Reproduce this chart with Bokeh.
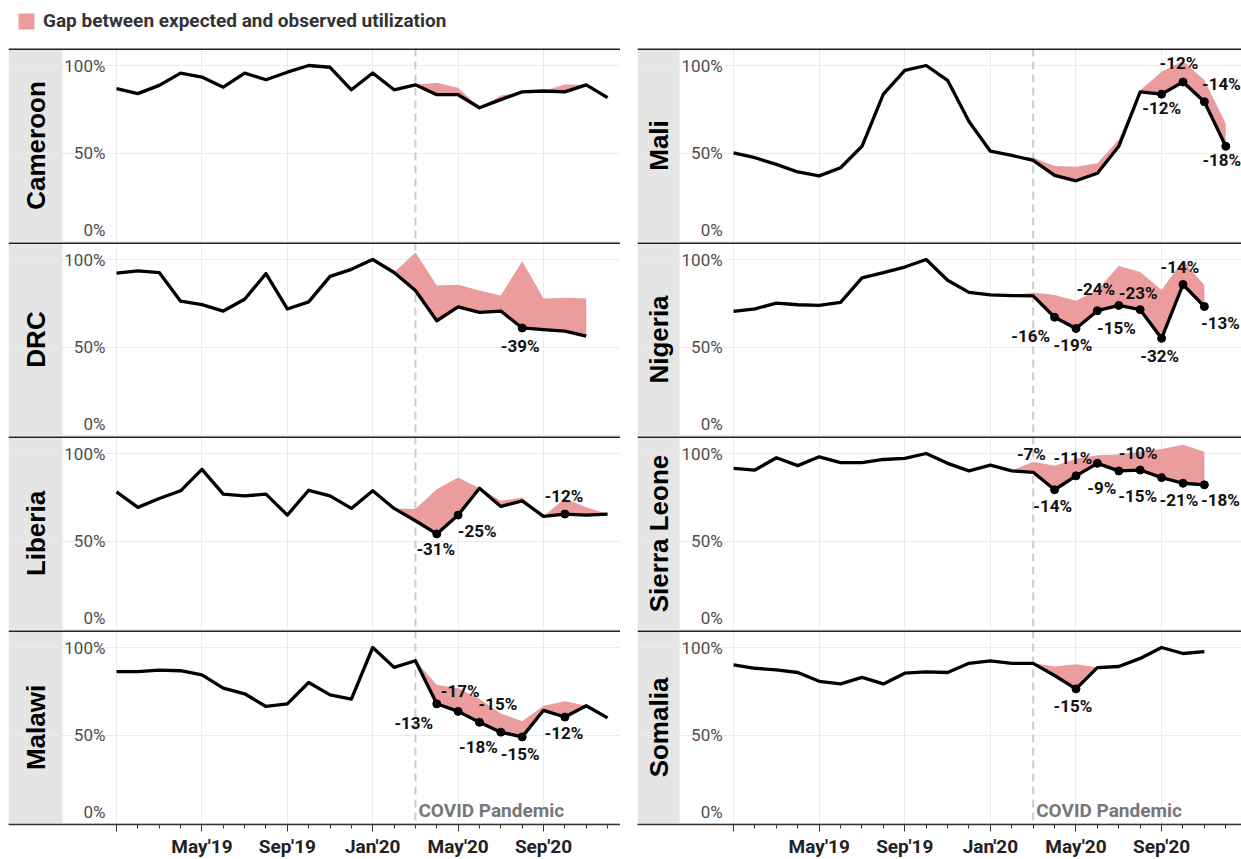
import numpy as np
from bokeh.plotting import figure
from bokeh.models import (Range1d, ColumnDataSource, LinearAxis, FixedTicker, Grid, Span,
                          BoxAnnotation, Legend, LegendItem, Spacer)
from bokeh.layouts import column, row
from bokeh.core.properties import value
from bokeh.embed import file_html
from bokeh.resources import INLINE

# ---------------- data ----------------
MONTHS = ["Jan'19", "Feb'19", "Mar'19", "Apr'19", "May'19", "Jun'19", "Jul'19", "Aug'19",
          "Sep'19", "Oct'19", "Nov'19", "Dec'19", "Jan'20", "Feb'20", "Mar'20", "Apr'20",
          "May'20", "Jun'20", "Jul'20", "Aug'20", "Sep'20", "Oct'20", "Nov'20", "Dec'20"]
TICK_MONTHS = [0, 4, 8, 12, 16, 20]
TICK_LABELS = ["", "May'19", "Sep'19", "Jan'20", "May'20", "Sep'20"]
Y_TICKS = [0, 50, 100]
Y_TICK_LABELS = ["0%", "50%", "100%"]
COVID_START = 14
LEGEND_LABEL = "Gap between expected and observed utilization"
COVID_LABEL = "COVID Pandemic"

LEFT_COUNTRIES = ["Cameroon", "DRC", "Liberia", "Malawi"]
RIGHT_COUNTRIES = ["Mali", "Nigeria", "Sierra Leone", "Somalia"]

cameroon_observed = [86.8, 84, 88.7, 95.7, 93.4, 87.7, 95.7, 91.9, 96.2, 100, 99, 86.2,
                     95.7, 86.2, 89, 83.4, 83.4, 76, 80.6, 85, 85.5, 85, 89, 81.7]
cameroon_expected_start = 14
cameroon_expected = [89, 90.2, 87.4, 76, 83, 85, 85.5, 89.2, 89]
cameroon_gap_months = []
cameroon_gap_labels = []

drc_observed = [92.2, 93.5, 92.6, 76.3, 74.4, 70.7, 77.4, 92, 71.9, 75.9, 90.4, 94.4,
                100, 92.6, 82.4, 65.2, 73.1, 70, 70.7, 61.1, 60.2, 59.3, 56.5, None]
drc_expected_start = 13
drc_expected = [92.6, 104, 85.2, 85.6, 82.4, 79.6, 99, 77.8, 78.3, 77.8]
drc_gap_months = [19]
drc_gap_labels = ["-39%"]

liberia_observed = [78.2, 69.4, 74.4, 78.8, 91, 76.9, 75.9, 76.9, 65, 79.1, 75.9, 68.8,
                    78.8, 68.8, 61.8, 54.3, 65, 80.3, 69.9, 73.1, 64.3, 65.6, 65, 65.6]
liberia_expected_start = 13
liberia_expected = [68.8, 68.4, 79.7, 86.3, 80.3, 73.1, 75, 64.3, 74.5, 69.4, 65.6]
liberia_gap_months = [15, 16, 21]
liberia_gap_labels = ["-31%", "-25%", "-12%"]

malawi_observed = [86.3, 86.3, 87.2, 86.8, 84.4, 76.9, 73.7, 66.5, 68, 80.1, 73.1, 70.7,
                   100, 88.7, 92.5, 68, 63.7, 57.5, 51.9, 49.2, 64.3, 60.5, 66.9, 60]
malawi_expected_start = 14
malawi_expected = [92.5, 78.8, 76.9, 70.7, 62.5, 58.1, 66.9, 69.4, 66.9]
malawi_gap_months = [15, 16, 17, 18, 19, 21]
malawi_gap_labels = ["-13%", "-17%", "-18%", "-15%", "-15%", "-12%"]

mali_observed = [50.4, 47.6, 43.8, 39.5, 37.3, 41.9, 54.1, 83.7, 97.2, 100, 91.6, 68.2,
                 51.3, 48.9, 46.1, 37.6, 34.5, 38.8, 54.1, 85, 83.7, 90.6, 79.4, 54.1]
mali_expected_start = 13
mali_expected = [48.9, 47.6, 42.9, 42.5, 44.4, 57.9, 86, 96.5, 102.5, 91.6, 67]
mali_gap_months = [20, 21, 22, 23]
mali_gap_labels = ["-12%", "-12%", "-14%", "-18%"]

nigeria_observed = [70.5, 72, 75.2, 74.3, 73.9, 75.6, 89.6, 92.5, 95.7, 100, 88.2, 81.3,
                    79.9, 79.5, 79.3, 67.2, 60.8, 70.9, 73.9, 71.5, 55.2, 85.8, 73.3, None]
nigeria_expected_start = 13
nigeria_expected = [79.5, 81.3, 79.9, 76.5, 82.6, 96.3, 92.9, 82.6, 99.4, 85.4]
nigeria_gap_months = [15, 16, 17, 18, 19, 20, 21, 22]
nigeria_gap_labels = ["-16%", "-19%", "-15%", "-24%", "-23%", "-32%", "-14%", "-13%"]

sierra_leone_observed = [91.6, 90.6, 97.6, 93.1, 98.1, 94.8, 94.8, 96.6, 97.2, 100, 94.4, 90.1,
                         93.4, 90.1, 89.3, 79.4, 87.3, 94.4, 90.1, 90.6, 86.3, 83.1, 82.2, None]
sierra_leone_expected_start = 13
sierra_leone_expected = [90.1, 95.3, 93, 97, 99, 99.5, 101, 102.5, 105, 101]
sierra_leone_gap_months = [15, 16, 17, 18, 19, 20, 21, 22]
sierra_leone_gap_labels = ["-14%", "-11%", "-7%", "-9%", "-10%", "-15%", "-21%", "-18%"]

somalia_observed = [90.1, 88.2, 87.3, 85.8, 80.8, 79.3, 83, 79.3, 85.4, 86.2, 85.8, 91,
                    92.4, 91, 91, 84.1, 76.5, 88.6, 89.2, 93.8, 100, 96.6, 97.6, None]
somalia_expected_start = 14
somalia_expected = [91, 89.2, 90.5, 88.6]
somalia_gap_months = [16]
somalia_gap_labels = ["-15%"]

DATA = {
    "Cameroon": (cameroon_observed, cameroon_expected_start, cameroon_expected, cameroon_gap_months, cameroon_gap_labels),
    "DRC": (drc_observed, drc_expected_start, drc_expected, drc_gap_months, drc_gap_labels),
    "Liberia": (liberia_observed, liberia_expected_start, liberia_expected, liberia_gap_months, liberia_gap_labels),
    "Malawi": (malawi_observed, malawi_expected_start, malawi_expected, malawi_gap_months, malawi_gap_labels),
    "Mali": (mali_observed, mali_expected_start, mali_expected, mali_gap_months, mali_gap_labels),
    "Nigeria": (nigeria_observed, nigeria_expected_start, nigeria_expected, nigeria_gap_months, nigeria_gap_labels),
    "Sierra Leone": (sierra_leone_observed, sierra_leone_expected_start, sierra_leone_expected, sierra_leone_gap_months, sierra_leone_gap_labels),
    "Somalia": (somalia_observed, somalia_expected_start, somalia_expected, somalia_gap_months, somalia_gap_labels),
}

# label placement offsets (screen px, dx right / dy down) -- styling only
LABEL_OFFSETS = {
    "Cameroon": [],
    "DRC": [(-2, 18)],
    "Liberia": [(-1, 15), (19, 16), (-1, -18)],
    "Malawi": [(-23, 19), (2, -20), (-1, 25), (-3, -28), (-2, 17), (-1, 16)],
    "Mali": [(0, 14), (-4, -19), (17, -18), (-4, 14)],
    "Nigeria": [(-24, 19), (-3, 17), (19, 17), (-23, -16), (-2, -17), (-2, 18), (-3, -17), (16, 17)],
    "Sierra Leone": [(-2, 16), (-3, -18), (-66, -9), (-17, 17), (-2, -17), (-24, 18), (-4, 17), (16, 15)],
    "Somalia": [(-3, 17)],
}

# ---------------- style / geometry ----------------
PINK = "#eb9c9c"
STRIP = "#e5e5e5"
GRID = "#ebebeb"
FRAME_H = 194
YR = (-0.57, 109.66)
LEFT_W, GAP_W, RIGHT_W = 612, 17, 604
GEOM = {
    "left": dict(frame_width=LEFT_W, x0=-5.06, x1=-5.06 + LEFT_W / 21.35, strip_right=-2.53,
                 panel_left=-0.42, label_x=-0.52, name_x=-3.79),
    "right": dict(frame_width=RIGHT_W, x0=-4.49, x1=-4.49 + RIGHT_W / 21.4, strip_right=-2.52,
                  panel_left=-0.42, label_x=-0.51, name_x=-3.50),
}
FONT = value("Roboto")


def base_figure(w, h, xr, yr):
    p = figure(frame_width=w, frame_height=h, x_range=xr, y_range=yr,
               x_axis_location=None, y_axis_location=None, toolbar_location=None,
               output_backend="svg", min_border=0, outline_line_color=None)
    p.grid.visible = False
    p.background_fill_color = "white"
    p.border_fill_color = "white"
    return p


def make_panel(country, side, bottom):
    g = GEOM[side]
    p = base_figure(g["frame_width"], FRAME_H, Range1d(g["x0"], g["x1"]), Range1d(*YR))

    p.add_layout(BoxAnnotation(left=g["x0"], right=g["strip_right"], bottom=YR[0], top=YR[1],
                               fill_color=STRIP, fill_alpha=1, line_color=None, level="underlay"))
    p.add_layout(Grid(dimension=0, ticker=FixedTicker(ticks=TICK_MONTHS),
                      grid_line_color=GRID, grid_line_width=1, level="underlay"))
    p.add_layout(Grid(dimension=1, ticker=FixedTicker(ticks=Y_TICKS), bounds=(g["panel_left"], g["x1"]),
                      grid_line_color=GRID, grid_line_width=1, level="underlay"))
    p.add_layout(Span(location=COVID_START, dimension="height", line_color="#cccccc",
                      line_dash="8 5", line_width=2, level="underlay"))
    p.add_layout(Span(location=YR[1], dimension="width", line_color="#222222", line_width=3))

    obs, est, exp, gm, gl = DATA[country]
    obs_arr = np.array(obs, dtype=float)
    x_all = np.arange(len(MONTHS))

    xe = x_all[est:est + len(exp)]
    p.varea(x=xe, y1=obs_arr[est:est + len(exp)], y2=np.array(exp, dtype=float),
            fill_color=PINK, fill_alpha=1)
    p.line(x=x_all, y=obs_arr, line_color="black", line_width=3.3, line_join="round")

    if gm:
        offs = LABEL_OFFSETS[country]
        src = ColumnDataSource(dict(x=gm, y=[obs_arr[m] for m in gm], t=gl,
                                    dx=[o[0] for o in offs], dy=[o[1] for o in offs]))
        p.scatter(x="x", y="y", source=src, size=8, color="black")
        p.text(x="x", y="y", text="t", source=src, x_offset="dx", y_offset="dy",
               text_align="center", text_baseline="middle", text_font=FONT,
               text_font_style="bold", text_font_size="17px", text_color="#111111")

    # y tick labels
    p.text(x=[g["label_x"]] * 2, y=Y_TICKS[1:], text=Y_TICK_LABELS[1:], text_align="right",
           text_baseline="middle", text_font=FONT, text_font_size="17px", text_color="#4d4d4d")
    p.text(x=[g["label_x"]], y=Y_TICKS[:1], text=Y_TICK_LABELS[:1], text_align="right",
           text_baseline="middle", y_offset=-11, text_font=FONT, text_font_size="17px",
           text_color="#4d4d4d")

    # strip label
    p.text(x=[g["name_x"]], y=[(YR[0] + YR[1]) / 2], text=[country], angle=np.pi / 2,
           text_align="center", text_baseline="middle", text_font=value("Liberation Sans"),
           text_font_style="bold", text_font_size="26px", text_color="black")

    if bottom:
        p.text(x=[COVID_START], y=[0], text=[COVID_LABEL], x_offset=3, y_offset=-13,
               text_align="left", text_baseline="middle", text_font=FONT,
               text_font_style="bold", text_font_size="19px", text_color="#777777")
        ax = LinearAxis(ticker=FixedTicker(ticks=TICK_MONTHS, minor_ticks=list(range(len(MONTHS)))),
                        major_label_overrides={m: l for m, l in zip(TICK_MONTHS, TICK_LABELS)},
                        axis_line_color="#333333", axis_line_width=1.5,
                        major_tick_line_color="#333333", minor_tick_line_color="#333333",
                        major_tick_in=0, major_tick_out=7, minor_tick_in=0, minor_tick_out=4,
                        major_label_text_font="Roboto", major_label_text_font_style="bold",
                        major_label_text_font_size="19px", major_label_text_color="#222222",
                        major_label_standoff=3)
        p.add_layout(ax, "below")
    return p


left = [make_panel(c, "left", i == len(LEFT_COUNTRIES) - 1) for i, c in enumerate(LEFT_COUNTRIES)]
right = [make_panel(c, "right", i == len(RIGHT_COUNTRIES) - 1) for i, c in enumerate(RIGHT_COUNTRIES)]

leg = base_figure(LEFT_W + GAP_W + RIGHT_W, 40, Range1d(0, 1), Range1d(0, 1))
r = leg.varea(x=[np.nan], y1=[np.nan], y2=[np.nan], fill_color=PINK, fill_alpha=1)
legend = Legend(items=[LegendItem(label=value(LEGEND_LABEL), renderers=[r])], location=(8, 16),
                border_line_color=None, background_fill_alpha=0, padding=0, margin=0, spacing=0,
                glyph_width=20, glyph_height=20, label_standoff=7, label_height=20,
                label_text_font="Roboto", label_text_font_style="bold",
                label_text_font_size="19px", label_text_color="#333333")
leg.add_layout(legend)

inner = column(leg, row(column(*left), Spacer(width=GAP_W), column(*right)))
layout = column(Spacer(height=8), row(Spacer(width=8), inner))

with open("out.html", "w") as f:
    f.write(file_html(layout, INLINE))
